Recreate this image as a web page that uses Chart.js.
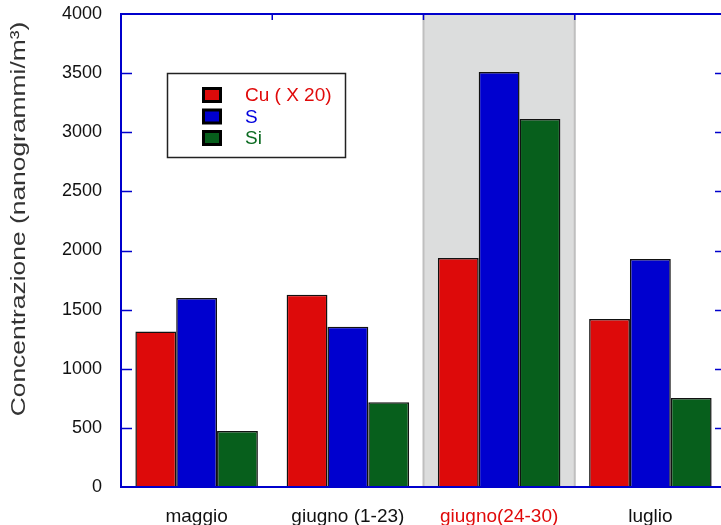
<!DOCTYPE html>
<html lang="it">
<head>
  <meta charset="UTF-8">
  <title>Concentrazione</title>
  <style>
    html, body {
      margin: 0;
      padding: 0;
      background: #fff;
      overflow: hidden;
      width: 721px;
      height: 525px;
    }
    canvas { display: block; }
  </style>
  <script src="https://cdn.jsdelivr.net/npm/chart.js"></script>
</head>
<body>
  <canvas id="chart" width="740" height="525"></canvas>

  <script>
    // data
    const categories = ['maggio', 'giugno (1-23)', 'giugno(24-30)', 'luglio'];
    const seriesNames = ['Cu ( X 20)', 'S', 'Si'];
    const cuValues = [1315, 1625, 1937, 1421];
    const sValues = [1598, 1356, 3510, 1928];
    const siValues = [473, 716, 3112, 753];
    const yMin = 0, yMax = 4000, yStep = 500;
    const highlightIndex = 2;

    const barColors = ['#dd0a0a', '#0000cf', '#075f1c'];
    const textColors = ['#e00a0a', '#0000dd', '#0a6a20'];
    const axisBlue = '#0000cc';
    const font = '"Liberation Sans", Arial, sans-serif';

    // grey band behind the "giugno(24-30)" group
    const highlightBand = {
      id: 'highlightBand',
      beforeDatasetsDraw(chart) {
        const { ctx, chartArea, scales: { x } } = chart;
        const half = (x.getPixelForValue(1) - x.getPixelForValue(0)) / 2;
        const cx = x.getPixelForValue(highlightIndex);
        ctx.save();
        ctx.fillStyle = '#dcdddd';
        ctx.fillRect(cx - half, chartArea.top, half * 2, chartArea.bottom - chartArea.top);
        ctx.strokeStyle = '#bfbfbf';
        ctx.lineWidth = 2;
        ctx.beginPath();
        ctx.moveTo(cx - half, chartArea.top);
        ctx.lineTo(cx - half, chartArea.bottom);
        ctx.moveTo(cx + half, chartArea.top);
        ctx.lineTo(cx + half, chartArea.bottom);
        ctx.stroke();
        ctx.restore();
      }
    };

    // blue frame with inward ticks, legend box, rotated axis title
    const decorations = {
      id: 'decorations',
      afterDatasetsDraw(chart) {
        const { ctx, chartArea: a, scales: { x, y } } = chart;
        ctx.save();
        ctx.strokeStyle = axisBlue;
        ctx.lineWidth = 2;
        ctx.beginPath();
        ctx.moveTo(a.left, a.top); ctx.lineTo(a.right, a.top);
        ctx.lineTo(a.right, a.bottom); ctx.lineTo(a.left, a.bottom);
        ctx.closePath();
        ctx.stroke();

        ctx.lineWidth = 1.5;
        ctx.beginPath();
        y.ticks.forEach(t => {
          if (t.value === yMin || t.value === yMax) return;
          const py = Math.round(y.getPixelForValue(t.value)) + 0.5;
          ctx.moveTo(a.left, py); ctx.lineTo(a.left + 11, py);
          ctx.moveTo(a.right, py); ctx.lineTo(a.right - 11, py);
        });
        const half = (x.getPixelForValue(1) - x.getPixelForValue(0)) / 2;
        for (let i = 0; i < categories.length - 1; i++) {
          const px = x.getPixelForValue(i) + half;
          ctx.moveTo(px, a.top); ctx.lineTo(px, a.top + 6);
        }
        ctx.stroke();

        // legend
        ctx.strokeStyle = '#222';
        ctx.lineWidth = 1.5;
        ctx.strokeRect(167.5, 73.5, 178, 84);
        ctx.font = '19px ' + font;
        ctx.textBaseline = 'middle';
        ctx.textAlign = 'left';
        chart.data.datasets.forEach((ds, i) => {
          const top = 87 + i * 21.5;
          ctx.fillStyle = '#000';
          ctx.fillRect(202, top, 20, 16);
          ctx.fillStyle = ds.backgroundColor;
          ctx.fillRect(205, top + 3, 14, 10);
          ctx.fillStyle = textColors[i];
          ctx.fillText(ds.label, 245, top + 9);
        });

        // y axis title (the original lettering is stretched along its length)
        ctx.translate(19, 219);
        ctx.rotate(-Math.PI / 2);
        ctx.scale(1.32, 1);
        ctx.fillStyle = '#333';
        ctx.font = '20px ' + font;
        ctx.textAlign = 'center';
        ctx.fillText('Concentrazione (nanogrammi/m³)', 0, 0);
        ctx.restore();
      }
    };

    const seriesValues = [cuValues, sValues, siValues];

    new Chart(document.getElementById('chart'), {
      type: 'bar',
      data: {
        labels: categories,
        datasets: seriesNames.map((name, i) => ({
          label: name,
          data: seriesValues[i],
          backgroundColor: barColors[i],
          borderColor: '#111',
          borderWidth: 1.5,
          categoryPercentage: 0.81,
          barPercentage: 1
        }))
      },
      options: {
        responsive: false,
        animation: false,
        devicePixelRatio: 1,
        layout: { padding: { top: 14, right: 14, left: 0, bottom: 0 } },
        plugins: {
          legend: { display: false },
          tooltip: { enabled: false }
        },
        scales: {
          x: {
            grid: { display: false },
            border: { display: false },
            ticks: {
              font: { family: font, size: 19 },
              color: c => c.index === highlightIndex ? '#e00a0a' : '#111',
              padding: 10
            },
            afterFit: s => { s.height = 38; }
          },
          y: {
            min: yMin,
            max: yMax,
            // invisible tick marks push the labels off the axis without
            // adding label padding at the top of the chart area
            grid: {
              display: true,
              drawOnChartArea: false,
              drawTicks: true,
              tickLength: 19,
              tickColor: 'rgba(0,0,0,0)'
            },
            border: { display: false },
            ticks: {
              stepSize: yStep,
              font: { family: font, size: 18 },
              color: '#111',
              padding: 0,
              callback: v => String(v)
            },
            afterFit: s => { s.width = 121; }
          }
        }
      },
      plugins: [highlightBand, decorations]
    });
  </script>
</body>
</html>
